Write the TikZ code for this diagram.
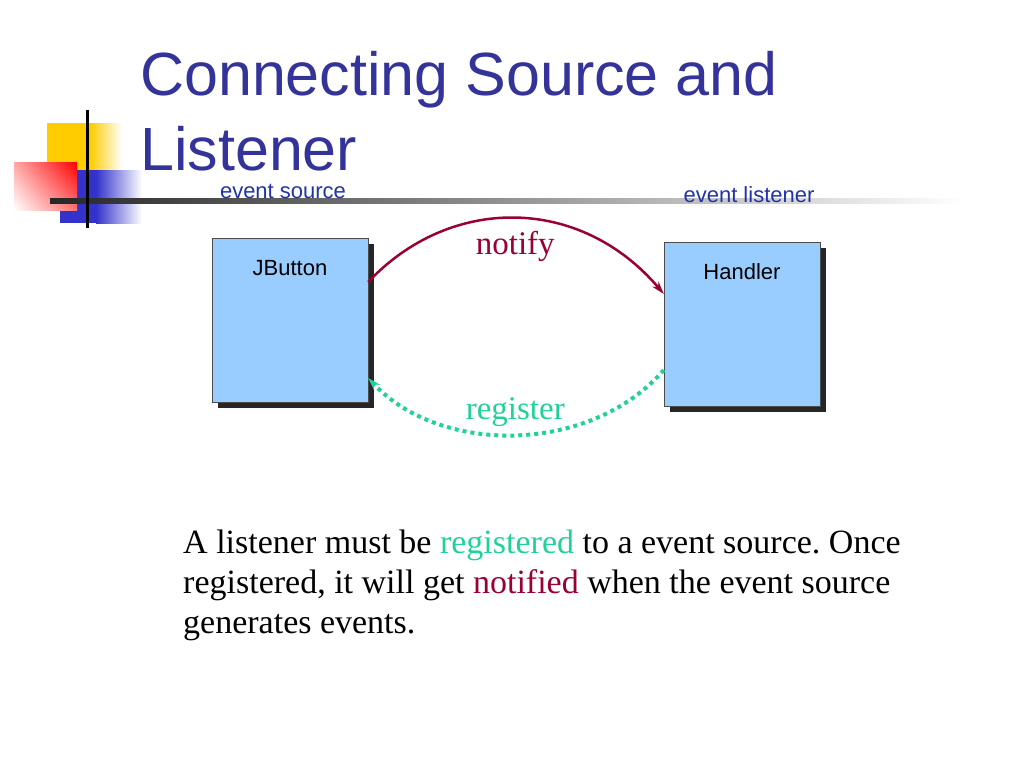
\documentclass[tikz,border=0pt]{standalone}
\usepackage{fontspec}
\setmainfont{Liberation Serif}
\setsansfont{Liberation Sans}
\usetikzlibrary{arrows.meta,positioning,shadows,shadings}
\definecolor{titleblue}{HTML}{333399}
\definecolor{labelblue}{HTML}{2233AA}
\definecolor{notifyred}{HTML}{990033}
\definecolor{regigreen}{HTML}{22D19A}
\definecolor{boxblue}{HTML}{99CCFF}
\definecolor{ornyellow}{HTML}{FFCC00}
\definecolor{ornblue}{HTML}{3333CC}

\begin{document}
\begin{tikzpicture}[x=1pt,y=-1pt]
    \useasboundingbox (0,0) rectangle (1024,768);

    % corner ornament
    \fill[ornyellow] (47,123) rectangle (90,170);
    \shade[left color=ornyellow,right color=white] (90,123) rectangle (122,170);
    \fill[ornblue] (60,170) rectangle (96,223);
    \shade[left color=ornblue,right color=white] (96,170) rectangle (142,223);
    \shade[lower left=white,upper right=red,upper left=red!35,lower right=red!55] (14,162) rectangle (77,210);
    \shade[left color=black!85,right color=white] (50,198) rectangle (965,203);
    \draw[line width=3pt] (87,110) -- (87,228);

    \node[font=\sffamily\fontsize{61}{75}\selectfont,text=titleblue,anchor=base west,inner sep=0] (titleA) at (140,95) {Connecting Source and};
    \node[font=\sffamily\fontsize{61}{75}\selectfont,text=titleblue,anchor=base west,inner sep=0] (titleB) at (140,170) {Listener};

    \node[font=\sffamily\fontsize{22}{26}\selectfont,text=labelblue,inner sep=0] (srclabel) at (283,191) {event source};
    \node[font=\sffamily\fontsize{22}{26}\selectfont,text=labelblue,inner sep=0] (lstlabel) at (749,195) {event listener};

    \begin{scope}[every node/.style={draw=black!70,fill=boxblue,minimum width=156pt,minimum height=164pt,
        drop shadow={shadow xshift=6pt,shadow yshift=-6pt,fill=black!85,opacity=1}}]
      \node (jbutton) at (290,320) {};
      \node (handler) at (742,324) {};
    \end{scope}

    \node[font=\sffamily\fontsize{22}{26}\selectfont,inner sep=0,below=22pt of jbutton.north] (jbuttontext) {JButton};
    \node[font=\sffamily\fontsize{22}{26}\selectfont,inner sep=0,below=22pt of handler.north] (handlertext) {Handler};

    \begin{scope}[>={Stealth[length=13pt,width=8pt]},
        every node/.style={font=\fontsize{33}{40}\selectfont,inner sep=0}]
      \draw[->,notifyred,line width=2.5pt] ([yshift=38pt]jbutton.east) .. controls (450,195) and (580,195) .. ([yshift=30pt]handler.west)
        node[pos=0.5,below=12pt,text=notifyred] (notifytext) {notify};
      \draw[->,regigreen,line width=4pt,dash pattern=on 4pt off 4pt] ([yshift=-46pt]handler.west) .. controls (590,455) and (440,455) .. ([yshift=-58pt]jbutton.east)
        node[pos=0.5,above=6pt,text=regigreen] (registertext) {register};
    \end{scope}

    \node[anchor=north west,align=left,inner sep=0,font=\fontsize{34}{40}\selectfont\frenchspacing] (bodytext) at (183,530)
      {A listener must be \textcolor{regigreen}{registered} to a event source. Once\\
       registered, it will get \textcolor{notifyred}{notified} when the event source\\
       generates events.};
\end{tikzpicture}
\end{document}
